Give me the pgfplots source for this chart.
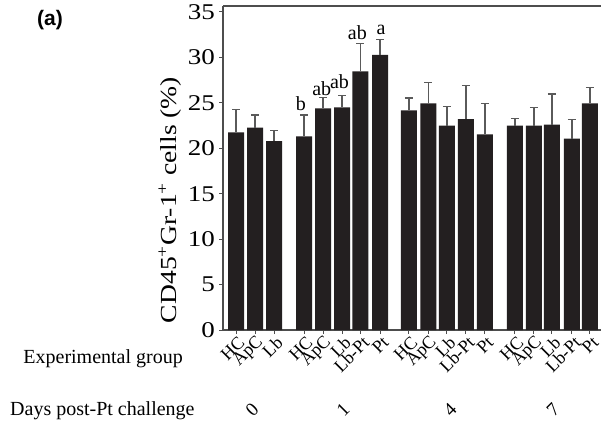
\documentclass[border=0pt]{standalone}
\usepackage{pgfplots}
\pgfplotsset{compat=1.18}
\usepackage{pgfplotstable}
\usepackage{fontspec}
\setmainfont{Liberation Serif}
\newfontfamily\wide{Liberation Serif}[FakeStretch=1.2]
\newfontfamily\sans{Liberation Sans}
\definecolor{barc}{HTML}{231F20}
\definecolor{axc}{HTML}{4D4D4D}
\definecolor{errc}{HTML}{5A5A5A}

\pgfplotstableread{
x y e
0 21.76 2.54
1 22.27 1.39
2 20.80 1.18
3.58 21.30 2.36
4.58 24.40 1.17
5.58 24.50 1.30
6.55 28.47 3.08
7.58 30.27 1.73
9.1 24.18 1.35
10.13 24.95 2.27
11.1 22.49 2.09
12.1 23.22 3.68
13.1 21.54 3.41
14.68 22.49 0.81
15.68 22.49 1.98
16.63 22.60 3.37
17.68 21.06 2.13
18.63 24.95 1.72
}\data

\pgfplotstableread{
x y t
3.42 24.21 b
4.51 25.86 ab
5.45 26.60 ab
6.39 31.92 ab
7.63 32.47 a
}\letters

\begin{document}
\begin{tikzpicture}
\useasboundingbox (0pt,0pt) rectangle (601pt,426pt);
\begin{axis}[at={(223pt,96pt)}, anchor=south west, scale only axis,
  width=378pt, height=324pt,
  xmin=-0.684, xmax=19.21, ymin=0, ymax=35.66,
  axis x line*=box, axis y line*=left,
  xtick pos=left, ytick pos=left,
  tick align=outside, major tick length=4pt,
  axis line style={axc, line width=1.3pt},
  every tick/.style={axc, line width=1pt},
  xtick={0,1,2,3.58,4.58,5.58,6.55,7.58,9.1,10.13,11.1,12.1,13.1,14.68,15.68,16.63,17.68,18.63},
  xticklabels={HC,ApC,Lb,HC,ApC,Lb,Lb-Pt,Pt,HC,ApC,Lb,Lb-Pt,Pt,HC,ApC,Lb,Lb-Pt,Pt},
  xticklabel style={rotate=45, anchor=east, inner sep=1pt, yshift=-8pt, xshift=1pt, font=\fontsize{18}{18}\selectfont},
  ytick={0,5,...,35},
  /pgf/number format/assume math mode=true,
  yticklabel style={font=\wide\fontsize{22.5}{22.5}\selectfont, inner sep=4pt},
  clip=false]
\addplot[ybar, bar width=16pt, fill=barc, draw=none,
  error bars/.cd, y dir=plus, y explicit,
  error bar style={errc, line width=1.4pt},
  error mark options={rotate=90, errc, mark size=4pt, line width=1.4pt}]
  table[x=x, y=y, y error=e]{\data};
\addplot[draw=none, mark=none, nodes near coords, point meta=explicit symbolic,
  nodes near coords style={anchor=base, inner sep=0pt, text=black, font=\fontsize{20}{20}\selectfont}]
  table[x=x, y=y, meta=t]{\letters};
\end{axis}
\node[rotate=90, font=\wide\fontsize{23}{23}\selectfont] at (170pt,226pt) {CD45\textsuperscript{+}Gr-1\textsuperscript{+} cells (\%)};
\node[anchor=base east, inner sep=0pt, font=\fontsize{20}{20}\selectfont] at (183pt,63pt) {Experimental group};
\node[anchor=base west, inner sep=0pt, font=\fontsize{20}{20}\selectfont] at (10pt,11pt) {Days post-Pt challenge};
\node[font=\sans\bfseries\fontsize{21}{21}\selectfont] at (50pt,406pt) {(a)};
\node[rotate=45, font=\fontsize{19}{19}\selectfont] at (252pt,16pt) {0};
\node[rotate=45, font=\fontsize{19}{19}\selectfont] at (343pt,16pt) {1};
\node[rotate=45, font=\fontsize{19}{19}\selectfont] at (450pt,16pt) {4};
\node[rotate=45, font=\fontsize{19}{19}\selectfont] at (553pt,16pt) {7};
\end{tikzpicture}
\end{document}
